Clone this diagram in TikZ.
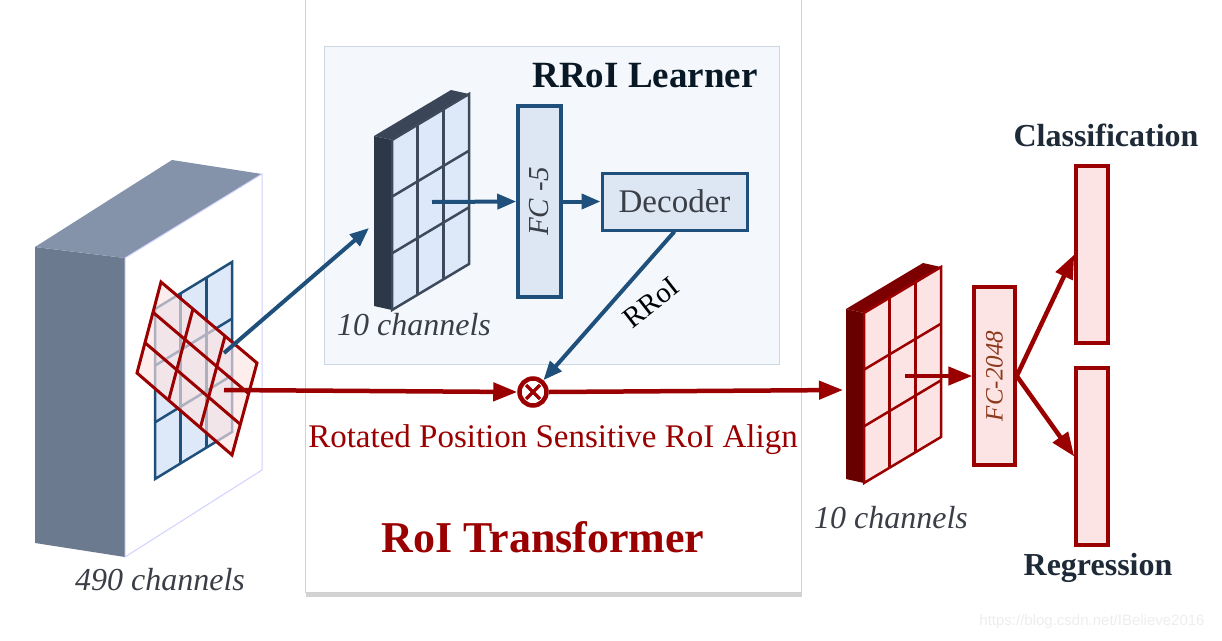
\documentclass[tikz,border=0pt]{standalone}
\usepackage{fontspec}
\setmainfont{Liberation Serif}
\newfontfamily\wmfont{Liberation Sans}
\usetikzlibrary{calc,arrows.meta,shadows}
\definecolor{bluel}{RGB}{31,80,124}
\definecolor{redl}{RGB}{155,0,0}
\definecolor{panelbg}{RGB}{244,248,252}
\definecolor{panelln}{RGB}{205,216,228}
\definecolor{boxblue}{RGB}{220,231,243}
\definecolor{gridblue}{RGB}{221,232,248}
\definecolor{boxpink}{RGB}{253,228,228}
\definecolor{slatetop}{RGB}{132,147,170}
\definecolor{slateside}{RGB}{108,122,144}
\definecolor{mapdark}{RGB}{44,56,72}
\definecolor{maptop}{RGB}{58,70,88}
\definecolor{mapline}{RGB}{60,74,92}
\definecolor{mapred}{RGB}{105,0,0}
\definecolor{mapredtop}{RGB}{125,0,0}
\definecolor{txtdark}{RGB}{58,62,70}
\definecolor{titledark}{RGB}{30,42,56}
\definecolor{fcbrown}{RGB}{140,58,30}

\begin{document}
\begin{tikzpicture}[x=1pt,y=-1pt,
    barrow/.style={bluel, line width=4pt, -{Triangle[length=19pt,width=15pt]}},
    rarrow/.style={redl, line width=4.5pt, -{Triangle[length=24pt,width=18pt]}},
    bluebox/.style={draw=bluel, fill=boxblue, line width=3.5pt, inner sep=0pt},
    pinkbox/.style={draw=redl, fill=boxpink, line width=3.5pt, inner sep=0pt},
    chan/.style={font=\fontsize{32}{36}\selectfont\itshape, text=txtdark},
    head/.style={font=\fontsize{32}{36}\selectfont\bfseries, text=titledark}]
  \useasboundingbox (0,0) rectangle (1222,640);
  \def\fmap#1#2#3#4#5{
    \begin{scope}[shift={#1}]
      \fill[#4] (0,0) -- (-18,-4) -- (-18,166) -- (0,170) -- cycle;
      \fill[#5] (0,0) -- (-18,-4) -- (59,-50) -- (77,-46) -- cycle;
      \filldraw[fill=#2, draw=#3, line width=2.5pt] (0,0) -- (77,-46) -- (77,124) -- (0,170) -- cycle;
      \foreach \t in {1,2} {
        \draw[#3, line width=2.5pt] (77*\t/3,-46*\t/3) -- ++(0,170);
        \draw[#3, line width=2.5pt] (0,170*\t/3) -- ++(77,-46);
      }
    \end{scope}}

  \fill[white, drop shadow={shadow xshift=1pt, shadow yshift=-5pt, opacity=0.35}] (305,-10) rectangle (801,592);
  \draw[black!18, line width=1pt] (305,-10) rectangle (801,592);
  \filldraw[fill=panelbg, draw=panelln, line width=1pt] (324,46) rectangle (779,364);

  \fill[slateside] (35,247) -- (125,258) -- (125,557) -- (35,543) -- cycle;
  \fill[slatetop] (35,247) -- (172,160) -- (262,174) -- (125,258) -- cycle;
  \filldraw[fill=white, draw=blue!18, line width=1pt] (125,258) -- (262,174) -- (262,470) -- (125,557) -- cycle;
  \begin{scope}[shift={(155,309)}]
    \filldraw[fill=gridblue, draw=bluel, line width=2.5pt] (0,0) -- (77,-47) -- (77,123) -- (0,170) -- cycle;
    \foreach \t in {1,2} {
      \draw[bluel, line width=2.5pt] (77*\t/3,-47*\t/3) -- ++(0,170);
      \draw[bluel, line width=2.5pt] (0,170*\t/3) -- ++(77,-47);
    }
  \end{scope}
  \coordinate (ra) at (161,282);
  \coordinate (rb) at (257,363);
  \coordinate (rc) at (232,455);
  \coordinate (rd) at (137,373);
  \filldraw[fill=boxpink, fill opacity=0.65, draw=redl, line width=3pt] (ra) -- (rb) -- (rc) -- (rd) -- cycle;
  \foreach \t in {0.333,0.667} {
    \draw[redl, line width=3pt] ($(ra)!\t!(rd)$) -- ($(rb)!\t!(rc)$);
    \draw[redl, line width=3pt] ($(ra)!\t!(rb)$) -- ($(rd)!\t!(rc)$);
  }
  \node[chan] (chin) at (160,580) {490 channels};

  \fmap{(392,140)}{gridblue}{mapline}{mapdark}{maptop}
  \node[chan] (chlearn) at (414,325) {10 channels};
  \fmap{(864,313)}{boxpink}{redl}{mapred}{mapredtop}
  \node[chan] (chout) at (891,518) {10 channels};

  \node[bluebox, minimum width=43pt, minimum height=191pt] (fc5) at (539.5,201.5) {};
  \node[rotate=90, text=txtdark, font=\fontsize{29}{32}\selectfont\itshape] at (fc5.center) {FC -5};
  \node[bluebox, line width=3pt, minimum width=145pt, minimum height=57pt, text=txtdark,
        font=\fontsize{33}{36}\selectfont] (dec) at (674.5,201.5) {Decoder};
  \node[head, font=\fontsize{37}{40}\selectfont\bfseries, text=black!70!bluel] (learner) at (645,76) {RRoI Learner};

  \node[circle, draw=redl, fill=white, line width=4.5pt, minimum size=27pt, inner sep=0pt] (mul) at (533,392) {};
  \draw[redl, line width=3.5pt] ([shift={(-7,-7)}]mul.center) -- ([shift={(7,7)}]mul.center);
  \draw[redl, line width=3.5pt] ([shift={(-7,7)}]mul.center) -- ([shift={(7,-7)}]mul.center);

  \node[pinkbox, minimum width=41pt, minimum height=178pt] (fc2k) at (994.5,376) {};
  \node[rotate=90, text=fcbrown, font=\fontsize{25}{28}\selectfont\itshape] at (fc2k.center) {FC-2048};
  \node[pinkbox, minimum width=32pt, minimum height=177pt] (cls) at (1092,254.5) {};
  \node[pinkbox, minimum width=32pt, minimum height=177pt] (reg) at (1092,456.5) {};
  \node[head] (clslbl) at (1106,135) {Classification};
  \node[head] (reglbl) at (1098,568) {Regression};

  \coordinate (bs) at (224,353);
  \coordinate (bt) at (369,228);
  \coordinate (rs) at (224,390);
  \coordinate (rt) at (843,390);
  \coordinate (g0) at (432,202);
  \coordinate (g1) at (905,376);
  \draw[barrow] (bs) -- (bt);
  \draw[barrow] (g0) -- (fc5.west);
  \draw[barrow] (fc5.east) -- (dec.west);
  \draw[barrow] (dec.south) -- (mul);
  \node[rotate=38, text=black, font=\fontsize{29}{30}\selectfont] (rroi) at (651,303) {RRoI};
  \draw[rarrow] (rs) -- (mul.west);
  \draw[rarrow] (mul.east) -- (rt);
  \draw[rarrow] (g1) -- (fc2k.west);
  \draw[rarrow] (fc2k.east) -- (cls.west);
  \draw[rarrow] (fc2k.east) -- (reg.west);

  \node[text=redl, font=\fontsize{33}{36}\selectfont] (psroi) at (553,440) {Rotated Position Sensitive RoI Align};
  \node[text=redl, font=\fontsize{44}{48}\selectfont\bfseries] (title) at (543,537) {RoI Transformer};
  \node[text=black!7, font=\wmfont\fontsize{15}{18}\selectfont] (wm) at (1092,622) {https://blog.csdn.net/IBelieve2016};
\end{tikzpicture}
\end{document}
